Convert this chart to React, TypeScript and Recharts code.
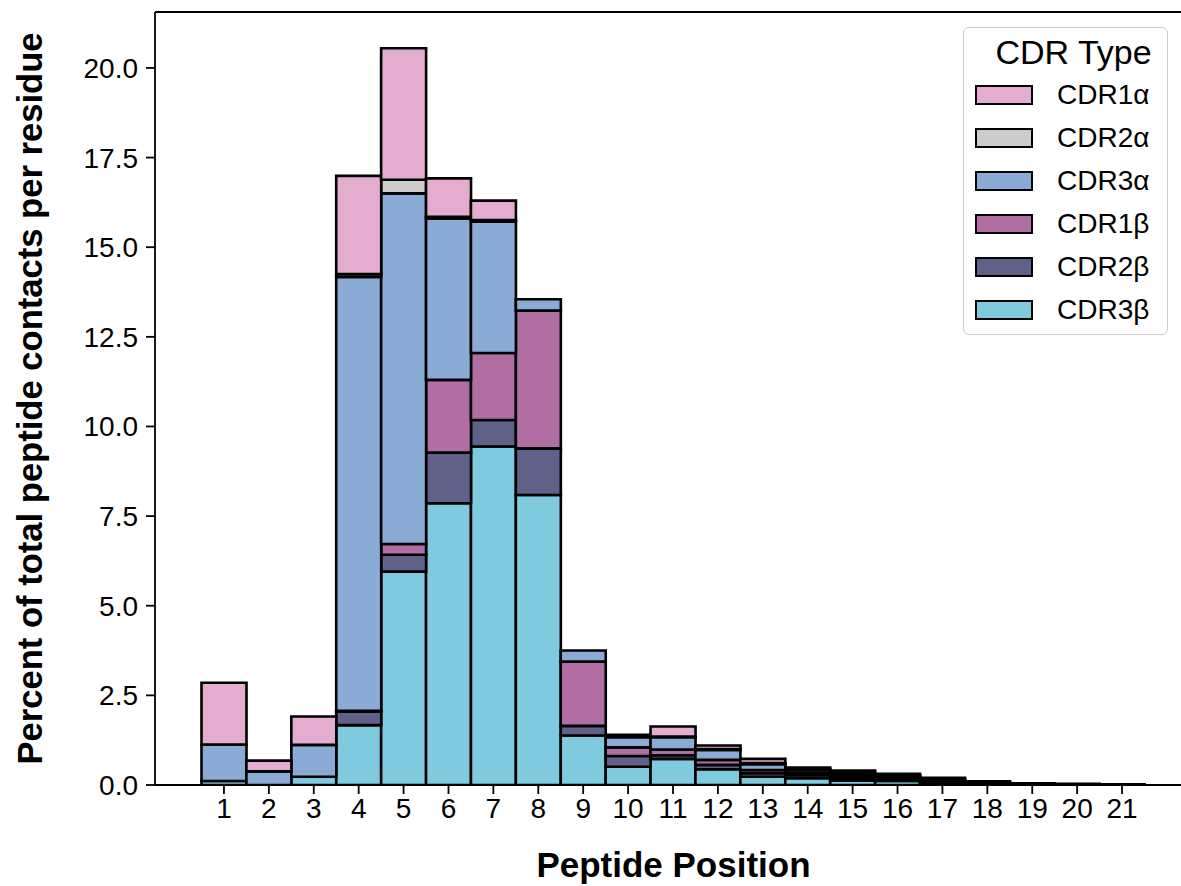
import React from "react";
import { BarChart, Bar, XAxis, YAxis, ReferenceLine } from "recharts";

const positions = ["1","2","3","4","5","6","7","8","9","10","11","12","13","14","15","16","17","18","19","20","21"];

const cdr3b = [0.11, 0.00, 0.23, 1.67, 5.95, 7.86, 9.44, 8.09, 1.38, 0.51, 0.73, 0.44, 0.23, 0.19, 0.12, 0.11, 0.05, 0.02, 0.01, 0.01, 0.00];
const cdr2b = [0.00, 0.00, 0.00, 0.38, 0.47, 1.41, 0.74, 1.30, 0.27, 0.30, 0.10, 0.12, 0.10, 0.08, 0.07, 0.06, 0.05, 0.02, 0.01, 0.01, 0.01];
const cdr1b = [0.00, 0.00, 0.00, 0.02, 0.30, 2.03, 1.87, 3.84, 1.79, 0.24, 0.16, 0.14, 0.09, 0.06, 0.05, 0.04, 0.03, 0.02, 0.01, 0.00, 0.00];
const cdr3a = [1.02, 0.38, 0.89, 12.10, 9.78, 4.50, 3.66, 0.32, 0.31, 0.28, 0.34, 0.28, 0.16, 0.08, 0.06, 0.04, 0.03, 0.02, 0.01, 0.01, 0.00];
const cdr2a = [0.00, 0.00, 0.00, 0.08, 0.38, 0.05, 0.05, 0.00, 0.00, 0.02, 0.02, 0.02, 0.03, 0.02, 0.03, 0.02, 0.01, 0.01, 0.00, 0.00, 0.00];
const cdr1a = [1.72, 0.30, 0.79, 2.74, 3.67, 1.07, 0.54, 0.00, 0.00, 0.05, 0.28, 0.10, 0.12, 0.06, 0.07, 0.04, 0.03, 0.01, 0.01, 0.00, 0.01];

const yTicks = [0, 2.5, 5, 7.5, 10, 12.5, 15, 17.5, 20];
const yMax = 21.56;

// stacking order bottom -> top
const series = [
  { key: "CDR3β", values: cdr3b, color: "#7FCADE" },
  { key: "CDR2β", values: cdr2b, color: "#5F6189" },
  { key: "CDR1β", values: cdr1b, color: "#B06EA3" },
  { key: "CDR3α", values: cdr3a, color: "#8AABD6" },
  { key: "CDR2α", values: cdr2a, color: "#CDCDCD" },
  { key: "CDR1α", values: cdr1a, color: "#E4ADCF" },
];

const data = positions.map((p, i) => {
  const row: Record<string, any> = { pos: p };
  series.forEach((s) => (row[s.key] = s.values[i]));
  return row;
});

const FONT = "'Liberation Sans', Arial, Helvetica, sans-serif";

const YLabel = (props: any) => {
  const vb = props.viewBox || { x: 0, y: 12, width: 155, height: 773 };
  const cx = vb.x + 30;
  const cy = vb.y + vb.height / 2;
  return (
    <text
      x={cx}
      y={cy}
      transform={`rotate(-90, ${cx}, ${cy})`}
      textAnchor="middle"
      dominantBaseline="central"
      fontSize={34.6}
      fontWeight="bold"
      fill="#000"
      fontFamily={FONT}
    >
      Percent of total peptide contacts per residue
    </text>
  );
};

export default function App() {
  return (
    <div
      style={{
        position: "absolute",
        left: 0,
        top: 0,
        width: 1181,
        height: 886,
        overflow: "hidden",
        background: "#fff",
        fontFamily: FONT,
      }}
    >
      <BarChart
        width={1192}
        height={886}
        data={data}
        margin={{ top: 12, right: 0, bottom: 0, left: 0 }}
        barCategoryGap={0}
        barGap={0}
      >
        <XAxis
          dataKey="pos"
          type="category"
          height={101}
          padding={{ left: 46.5, right: 47.5 }}
          tickSize={9}
          tickMargin={4}
          interval={0}
          axisLine={{ stroke: "#000", strokeWidth: 1.8 }}
          tickLine={{ stroke: "#000", strokeWidth: 1.8 }}
          tick={{ fill: "#000", fontSize: 28, fontFamily: FONT }}
          label={{
            value: "Peptide Position",
            position: "insideBottom",
            offset: 9,
            fill: "#000",
            fontSize: 35,
            fontWeight: "bold",
            fontFamily: FONT,
          }}
        />
        <YAxis
          type="number"
          width={155}
          domain={[0, yMax]}
          ticks={yTicks}
          allowDataOverflow
          tickFormatter={(v: number) => v.toFixed(1)}
          tickSize={9}
          tickMargin={8}
          axisLine={{ stroke: "#000", strokeWidth: 1.8 }}
          tickLine={{ stroke: "#000", strokeWidth: 1.8 }}
          tick={{ fill: "#000", fontSize: 28, fontFamily: FONT }}
          label={<YLabel />}
        />
        {series.map((s) => (
          <Bar
            key={s.key}
            dataKey={s.key}
            stackId="a"
            fill={s.color}
            stroke="#000"
            strokeWidth={2.6}
            isAnimationActive={false}
          />
        ))}
        <ReferenceLine y={yMax} stroke="#000" strokeWidth={1.8} ifOverflow="extendDomain" />
      </BarChart>
      <div
        style={{
          position: "absolute",
          left: 963,
          top: 27,
          width: 205,
          height: 308,
          boxSizing: "border-box",
          border: "1.5px solid #cccccc",
          borderRadius: 6,
          background: "rgba(255,255,255,0.85)",
        }}
      >
        <div
          style={{
            position: "absolute",
            left: 0,
            right: 0,
            top: 5,
            textAlign: "center",
            paddingLeft: 16,
            fontSize: 34,
            lineHeight: "38px",
            color: "#000",
          }}
        >
          CDR Type
        </div>
        {[...series].reverse().map((s, i) => (
          <div
            key={s.key}
            style={{
              position: "absolute",
              left: 11,
              top: 54 + i * 43,
              height: 26,
              display: "flex",
              alignItems: "center",
            }}
          >
            <div
              style={{
                width: 58,
                height: 20,
                boxSizing: "border-box",
                background: s.color,
                border: "2.5px solid #000",
              }}
            />
            <span
              style={{
                marginLeft: 24,
                fontSize: 28,
                lineHeight: "26px",
                color: "#000",
              }}
            >
              {s.key}
            </span>
          </div>
        ))}
      </div>
    </div>
  );
}
